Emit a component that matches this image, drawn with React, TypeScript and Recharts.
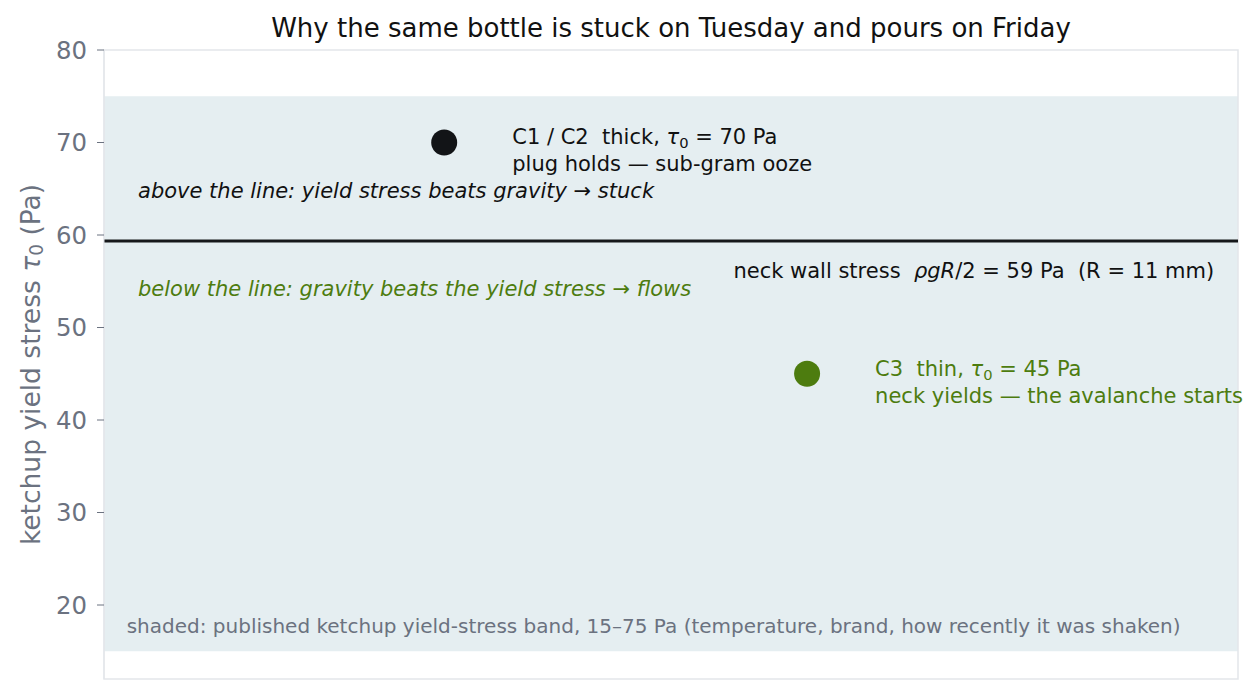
import React from "react";
import { ScatterChart, Scatter, XAxis, YAxis, ReferenceArea, ReferenceLine, Label } from "recharts";

const categories = ["C1 / C2", "C3"];
const xPosition = [0.3, 0.62];
const yieldStress = [70, 45];
const pointColors = ["#121417", "#4d7c0f"];
const neckStress = 59.35;
const bandRange = [15, 75];
const yDomain = [12, 80];
const yTicks = [20, 30, 40, 50, 60, 70, 80];

const FONT = "DejaVu Sans";
const GREEN = "#4d7c0f";
const GRAY = "#6b7280";

const points = categories.map((c, i) => ({ name: c, x: xPosition[i], y: yieldStress[i], color: pointColors[i] }));

type Note = { x: number; y: number; lines: React.ReactNode[]; color: string; anchor: "start" | "end"; italic?: boolean; size: number };

const tau = (
  <>
    <tspan fontStyle="italic">τ</tspan>
    <tspan fontSize="0.7em" dy="5">0</tspan>
    <tspan dy="-5"> </tspan>
  </>
);

const notes: Note[] = [
  { x: 0.36, y: 70.6, lines: [<>C1 / C2  thick, {tau}= 70 Pa</>, "plug holds — sub-gram ooze"], color: "#111", anchor: "start", size: 21 },
  { x: 0.03, y: 64.8, lines: ["above the line: yield stress beats gravity → stuck"], color: "#111", anchor: "start", italic: true, size: 21 },
  { x: 0.03, y: 54.16, lines: ["below the line: gravity beats the yield stress → flows"], color: GREEN, anchor: "start", italic: true, size: 21 },
  { x: 0.979, y: 56.1, lines: [<>neck wall stress  <tspan fontStyle="italic">ρgR</tspan>/2 = {Math.round(neckStress)} Pa  (R = 11 mm)</>], color: "#111", anchor: "end", size: 21 },
  { x: 0.68, y: 45.5, lines: [<>C3  thin, {tau}= 45 Pa</>, "neck yields — the avalanche starts"], color: GREEN, anchor: "start", size: 21 },
  { x: 0.02, y: 17.7, lines: [`shaded: published ketchup yield-stress band, ${bandRange[0]}–${bandRange[1]} Pa (temperature, brand, how recently it was shaken)`], color: GRAY, anchor: "start", size: 20 },
];

const NoteShape = (props: any) => {
  const { cx, cy, payload } = props;
  const n: Note = payload;
  return (
    <text
      x={cx}
      y={cy}
      fill={n.color}
      fontFamily={FONT}
      fontSize={n.size}
      fontStyle={n.italic ? "italic" : "normal"}
      textAnchor={n.anchor}
      dominantBaseline="central"
      style={{ whiteSpace: "pre" }}
    >
      {n.lines.map((l, i) => (
        <tspan key={i} x={cx} dy={i === 0 ? 0 : 27} style={{ whiteSpace: "pre" }}>
          {l}
        </tspan>
      ))}
    </text>
  );
};

const DotShape = (props: any) => {
  const { cx, cy, payload } = props;
  return <circle cx={cx} cy={cy} r={13} fill={payload.color} />;
};

const YLabel = (props: any) => {
  const vb = props.viewBox || {};
  const cx = (vb.x ?? 0) + 30;
  const cy = (vb.y ?? 0) + (vb.height ?? 0) / 2;
  return (
    <text
      x={cx}
      y={cy}
      transform={`rotate(-90 ${cx} ${cy})`}
      textAnchor="middle"
      dominantBaseline="central"
      fill={GRAY}
      fontFamily={FONT}
      fontSize={26.5}
      style={{ whiteSpace: "pre" }}
    >
      ketchup yield stress <tspan fontStyle="italic">τ</tspan>
      <tspan fontSize="0.7em" dy="6">0</tspan>
      <tspan dy="-6"> (Pa)</tspan>
    </text>
  );
};

export default function App() {
  return (
    <div style={{ position: "absolute", left: 0, top: 0, width: 1260, height: 696, background: "#fff" }}>
      <div
        style={{
          position: "absolute",
          left: 104,
          width: 1134,
          top: 13,
          textAlign: "center",
          fontFamily: FONT,
          fontSize: 26,
          color: "#111",
          lineHeight: "30px",
          whiteSpace: "pre",
        }}
      >
        Why the same bottle is stuck on Tuesday and pours on Friday
      </div>
      <ScatterChart width={1260} height={696} margin={{ top: 50, right: 22, bottom: 17, left: 0 }}>
        <XAxis type="number" dataKey="x" domain={[0, 1]} hide />
        <YAxis
          type="number"
          dataKey="y"
          domain={yDomain}
          ticks={yTicks}
          width={104}
          tick={{ fill: GRAY, fontSize: 24.4, fontFamily: FONT }}
          tickLine={{ stroke: GRAY }}
          tickSize={7}
          tickMargin={10}
          axisLine={{ stroke: "#e3e6ea" }}
          allowDataOverflow
        >
          <Label content={<YLabel />} />
        </YAxis>
        <ReferenceArea x1={0} x2={1} y1={bandRange[0]} y2={bandRange[1]} fill="#e5eef1" fillOpacity={1} stroke="none" />
        <ReferenceArea x1={0} x2={1} y1={yDomain[0]} y2={yDomain[1]} fill="none" stroke="#e3e6ea" strokeWidth={1.5} />
        <ReferenceLine y={neckStress} stroke="#16181b" strokeWidth={3} />
        <Scatter data={points} shape={<DotShape />} isAnimationActive={false} />
        <Scatter data={notes} shape={<NoteShape />} isAnimationActive={false} />
      </ScatterChart>
    </div>
  );
}
